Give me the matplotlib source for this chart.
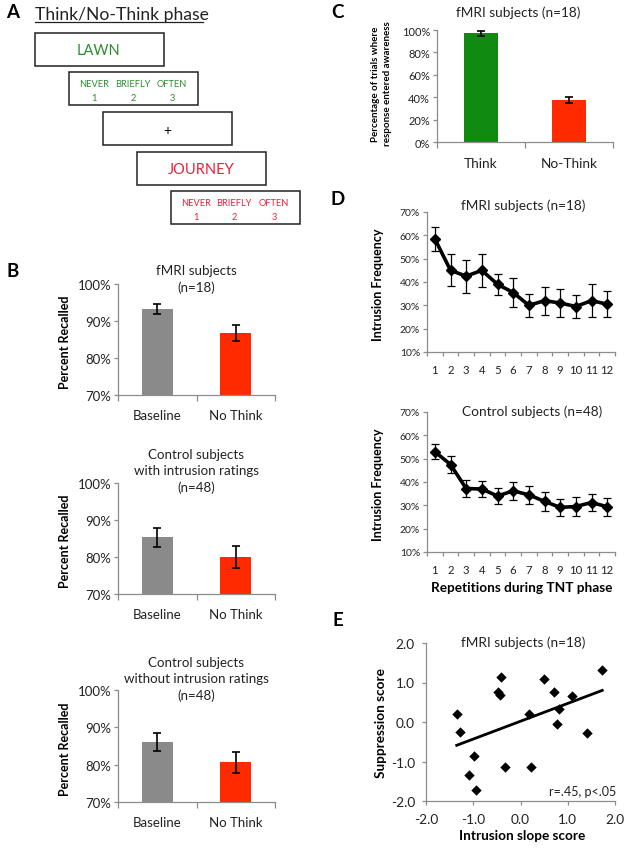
import numpy as np
import matplotlib
matplotlib.use("Agg")
import matplotlib.pyplot as plt
from matplotlib.patches import Rectangle

plt.rcParams['font.family'] = ['Lato', 'DejaVu Sans']

# ---------------- data ----------------
b_categories = ["Baseline", "No Think"]
b_titles = ["fMRI subjects\n(n=18)",
            "Control subjects\nwith intrusion ratings\n(n=48)",
            "Control subjects\nwithout intrusion ratings\n(n=48)"]
b_fmri = [93.2, 86.8]
b_fmri_err = [1.3, 2.2]
b_ctrl_with = [85.3, 80.1]
b_ctrl_with_err = [2.5, 3.0]
b_ctrl_without = [86.0, 80.6]
b_ctrl_without_err = [2.4, 2.9]

c_categories = ["Think", "No-Think"]
c_values = [97.0, 37.5]
c_err = [2.0, 3.0]

d_reps = list(range(1, 13))
d_fmri = [58.5, 45.0, 42.5, 45.0, 39.0, 35.5, 30.0, 32.0, 31.0, 29.5, 32.0, 30.5]
d_fmri_err = [5.0, 6.8, 7.0, 7.2, 4.5, 6.3, 5.0, 6.0, 6.0, 5.0, 7.0, 5.5]
d_ctrl = [53.0, 47.5, 37.2, 37.0, 34.0, 36.2, 34.5, 31.7, 29.1, 29.5, 31.2, 29.4]
d_ctrl_err = [3.2, 3.8, 3.8, 3.5, 3.6, 3.7, 3.8, 4.0, 3.8, 4.0, 3.7, 3.8]

e_x = [-1.35, -1.28, -0.98, -1.09, -0.94, -0.47, -0.44, -0.41, -0.32,
       0.18, 0.23, 0.49, 0.71, 0.81, 0.78, 1.09, 1.41, 1.73]
e_y = [0.19, -0.26, -0.86, -1.33, -1.72, 0.76, 0.69, 1.15, -1.14,
       0.19, -1.14, 1.09, 0.75, 0.34, -0.04, 0.67, -0.28, 1.31]
e_fit_x = [-1.35, 1.73]
e_fit_y = [-0.59, 0.80]

GREY = '#8a8a8a'
RED = '#ff2a00'
GREEN = '#118a11'
AX = '#8c8c8c'
TXT = '#222222'

W, H = 628, 853
fig = plt.figure(figsize=(W / 100, H / 100), dpi=100)

# overlay in pixel coords
ov = fig.add_axes([0, 0, 1, 1])
ov.set_xlim(0, W)
ov.set_ylim(H, 0)
ov.axis('off')


def T(x, y, s, **kw):
    kw.setdefault('ha', 'center')
    kw.setdefault('va', 'center')
    kw.setdefault('color', TXT)
    ov.text(x, y, s, **kw)


def axpx(x0, y0, x1, y1):
    return fig.add_axes([x0 / W, 1 - y1 / H, (x1 - x0) / W, (y1 - y0) / H])


def style(ax):
    for s in ['top', 'right']:
        ax.spines[s].set_visible(False)
    for s in ['left', 'bottom']:
        ax.spines[s].set_color(AX)
        ax.spines[s].set_linewidth(0.9)
    ax.tick_params(which='both', color=AX, direction='out', width=0.9)
    ax.patch.set_alpha(0)


# ---------------- Panel A ----------------
T(13, 12, "A", fontsize=13.5, fontweight='bold', color='black')
T(35, 15, "Think/No-Think phase", fontsize=12.6, ha='left', color=TXT)
ov.plot([35, 203], [23, 23], color=TXT, lw=0.9)
boxes = [(35, 34), (69, 73), (103, 113), (137, 153), (171, 192)]
for bx, by in boxes:
    ov.add_patch(Rectangle((bx, by), 129, 33, fill=False, ec='#222222', lw=1.1))
GTXT = '#2e8b2e'
RTXT = '#e8203a'
T(99, 51, "LAWN", fontsize=10.5, color=GTXT)
for i, (w, n) in enumerate(zip(["NEVER", "BRIEFLY", "OFTEN"], ["1", "2", "3"])):
    cx = [94, 133, 172][i]
    T(cx, 84, w, fontsize=6.7, color=GTXT)
    T(cx, 98, n, fontsize=6.7, color=GTXT)
T(167, 131, "+", fontsize=10, color='black')
T(201, 170, "JOURNEY", fontsize=10.5, color=RTXT)
for i, (w, n) in enumerate(zip(["NEVER", "BRIEFLY", "OFTEN"], ["1", "2", "3"])):
    cx = [196, 234, 274][i]
    T(cx, 203, w, fontsize=6.7, color=RTXT)
    T(cx, 217, n, fontsize=6.7, color=RTXT)

# ---------------- Panel B ----------------
T(13, 271, "B", fontsize=13.5, fontweight='bold', color='black')
b_sets = [(b_fmri, b_fmri_err, 285, 396), (b_ctrl_with, b_ctrl_with_err, 484, 595),
          (b_ctrl_without, b_ctrl_without_err, 691, 803)]
b_title_y = [(271, 288), (455, 471, 488), (663, 679, 696)]
for k, (vals, errs, y0, y1) in enumerate(b_sets):
    ax = axpx(118, y0, 275, y1)
    style(ax)
    ax.bar([0, 1], vals, width=0.39, color=[GREY, RED], zorder=2)
    ax.errorbar([0, 1], vals, yerr=errs, fmt='none', ecolor='black', elinewidth=1.2,
                capsize=3, capthick=1.2, zorder=3)
    ax.set_xlim(-0.5, 1.5)
    ax.set_ylim(70, 100)
    ax.set_yticks([70, 80, 90, 100])
    ax.set_yticklabels([f"{v}%" for v in [70, 80, 90, 100]], fontsize=9.5, color=TXT)
    ax.set_xticks([0, 1])
    ax.set_xticklabels(b_categories, fontsize=9.5, color=TXT)
    ax.tick_params(axis='x', which='major', length=0, pad=10)
    ax.set_xticks([-0.5, 0.5, 1.5], minor=True)
    ax.tick_params(axis='x', which='minor', length=4)
    ax.tick_params(axis='y', length=3, pad=2)
    lines = b_titles[k].split("\n")
    for ln, ty in zip(lines, b_title_y[k]):
        T(196, ty, ln, fontsize=9.6)
    T(65, (y0 + y1) / 2 + 2, "Percent Recalled", fontsize=9, fontweight='bold',
      rotation=90, color='black')

# ---------------- Panel C ----------------
T(338, 12, "C", fontsize=13.5, fontweight='bold', color='black')
ax = axpx(437, 31, 613, 143)
style(ax)
ax.bar([0, 1], c_values, width=0.39, color=[GREEN, RED], zorder=2)
ax.errorbar([0, 1], c_values, yerr=c_err, fmt='none', ecolor='black', elinewidth=1.2,
            capsize=3, capthick=1.2, zorder=3)
ax.set_xlim(-0.5, 1.5)
ax.set_ylim(0, 100)
ax.set_yticks(range(0, 101, 20))
ax.set_yticklabels([f"{v}%" for v in range(0, 101, 20)], fontsize=8, color=TXT)
ax.set_xticks([0, 1])
ax.set_xticklabels(c_categories, fontsize=9.8, color=TXT)
ax.tick_params(axis='x', which='major', length=0, pad=11)
ax.set_xticks([-0.5, 0.5, 1.5], minor=True)
ax.tick_params(axis='x', which='minor', length=4)
ax.tick_params(axis='y', length=3, pad=2)
T(518, 13, "fMRI subjects (n=18)", fontsize=9.8)
T(376, 84, "Percentage of trials where", fontsize=7, fontweight='bold', rotation=90,
  color='black')
T(388, 84, "response entered awareness", fontsize=7, fontweight='bold', rotation=90,
  color='black')

# ---------------- Panel D ----------------
T(338, 199, "D", fontsize=13.5, fontweight='bold', color='black')
d_sets = [(d_fmri, d_fmri_err, 213, 353, "fMRI subjects (n=18)", 523, 206),
          (d_ctrl, d_ctrl_err, 413, 553, "Control subjects (n=48)", 532, 412)]
for vals, errs, y0, y1, title, tx, ty in d_sets:
    ax = axpx(427, y0, 615, y1)
    style(ax)
    ax.errorbar(d_reps, vals, yerr=errs, fmt='none', ecolor='black', elinewidth=0.9,
                capsize=3, capthick=0.9, zorder=2)
    ax.plot(d_reps, vals, color='black', lw=2.6, marker='D', markersize=5, zorder=3)
    ax.set_xlim(0.5, 12.5)
    ax.set_ylim(10, 70)
    ax.set_yticks(range(10, 71, 10))
    ax.set_yticklabels([f"{v}%" for v in range(10, 71, 10)], fontsize=7.5, color=TXT)
    ax.set_xticks(d_reps)
    ax.set_xticklabels([str(r) for r in d_reps], fontsize=8.2, color=TXT)
    ax.tick_params(axis='x', which='major', length=0, pad=9)
    ax.set_xticks(np.arange(0.5, 13, 1.0), minor=True)
    ax.tick_params(axis='x', which='minor', length=3)
    ax.tick_params(axis='y', length=3, pad=2)
    T(tx, ty, title, fontsize=9.8)
    T(378, (y0 + y1) / 2 + 2, "Intrusion Frequency", fontsize=9, fontweight='bold',
      rotation=90, color='black')
T(522, 588, "Repetitions during TNT phase", fontsize=9.8, fontweight='bold', color='black')

# ---------------- Panel E ----------------
T(338, 621, "E", fontsize=13.5, fontweight='bold', color='black')
ax = axpx(426, 644, 615, 802)
style(ax)
ax.scatter(e_x, e_y, marker='D', s=28, color='black', zorder=3, linewidths=0)
ax.plot(e_fit_x, e_fit_y, color='black', lw=2.0, zorder=2)
ax.set_xlim(-2, 2)
ax.set_ylim(-2, 2)
ticks = [-2, -1, 0, 1, 2]
ax.set_xticks(ticks)
ax.set_xticklabels([f"{t:.1f}" for t in ticks], fontsize=9.8, color=TXT)
ax.set_yticks(ticks)
ax.set_yticklabels([f"{t:.1f}" for t in ticks], fontsize=9.8, color=TXT)
ax.tick_params(axis='x', length=3, pad=6)
ax.tick_params(axis='y', length=3, pad=5)
T(523, 643, "fMRI subjects (n=18)", fontsize=9.8)
T(616, 792, "r=.45, p<.05", fontsize=9, ha='right')
T(522, 836, "Intrusion slope score", fontsize=9.8, fontweight='bold', color='black')
T(381, 723, "Suppression score", fontsize=9.8, fontweight='bold', rotation=90,
  color='black')

fig.savefig("out.png", dpi=100)
